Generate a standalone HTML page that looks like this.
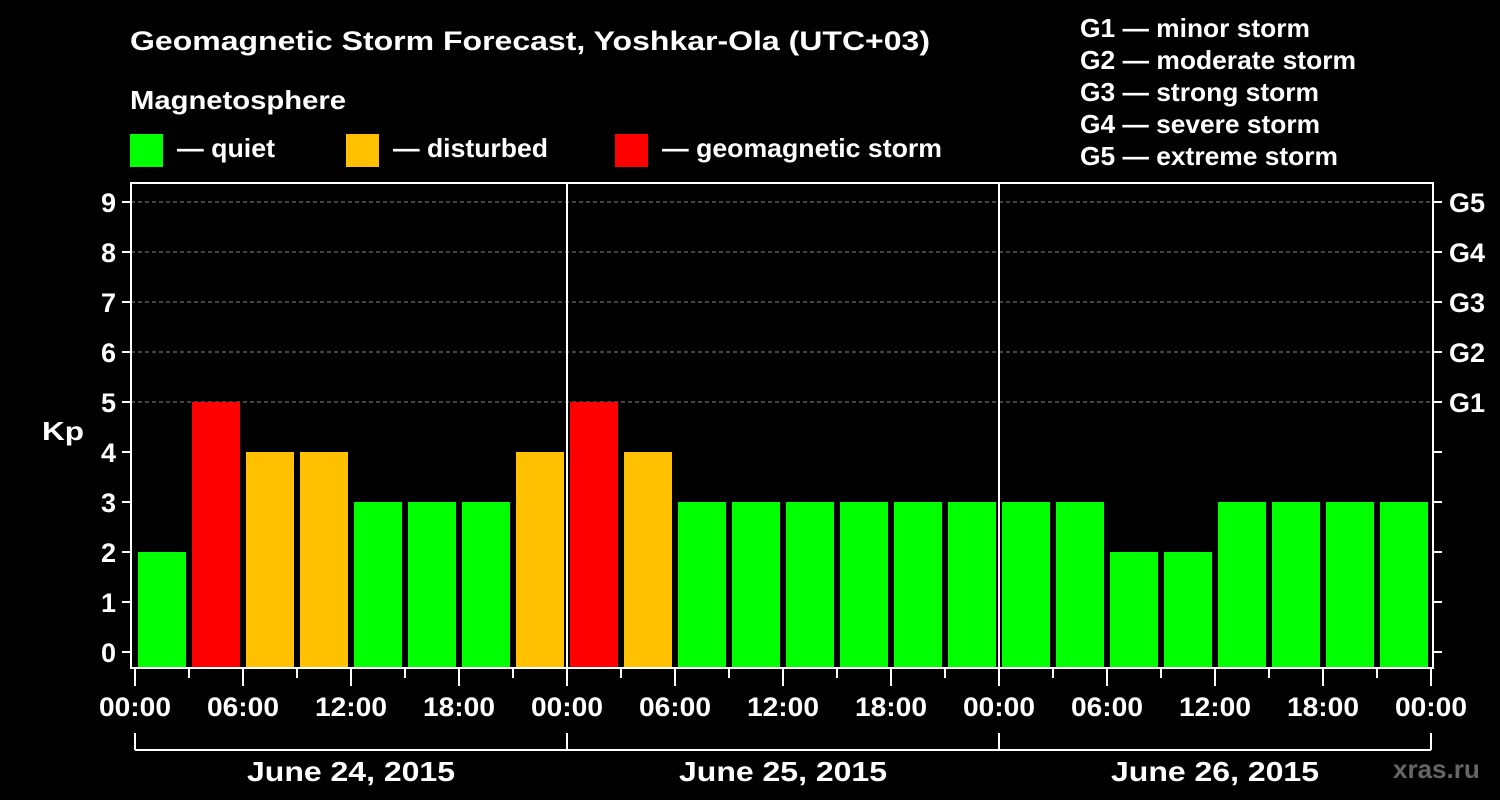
<!DOCTYPE html>
<html><head><meta charset="utf-8"><style>
html,body{margin:0;padding:0;background:#000;}
svg{display:block;font-family:"Liberation Sans",Arial,sans-serif;font-weight:bold;}
</style></head><body>
<svg id="c" width="1500" height="800" viewBox="0 0 1500 800">
<text x="130" y="50" fill="#fff" font-size="27" textLength="800" lengthAdjust="spacingAndGlyphs">Geomagnetic Storm Forecast, Yoshkar-Ola (UTC+03)</text>
<text x="130" y="109" fill="#fff" font-size="26" textLength="216" lengthAdjust="spacingAndGlyphs">Magnetosphere</text>
<g><rect x="130" y="134" width="33" height="33" fill="#00ff00"/><text x="177" y="157" fill="#fff" font-size="26" textLength="98" lengthAdjust="spacingAndGlyphs">— quiet</text></g>
<g><rect x="346" y="134" width="33" height="33" fill="#ffc000"/><text x="393" y="157" fill="#fff" font-size="26" textLength="155" lengthAdjust="spacingAndGlyphs">— disturbed</text></g>
<g><rect x="615" y="134" width="33" height="33" fill="#ff0000"/><text x="662" y="157" fill="#fff" font-size="26" textLength="280" lengthAdjust="spacingAndGlyphs">— geomagnetic storm</text></g>
<g fill="#fff" font-size="26">
<text x="1080" y="37" textLength="230" lengthAdjust="spacingAndGlyphs">G1 — minor storm</text>
<text x="1080" y="69" textLength="276" lengthAdjust="spacingAndGlyphs">G2 — moderate storm</text>
<text x="1080" y="101" textLength="239" lengthAdjust="spacingAndGlyphs">G3 — strong storm</text>
<text x="1080" y="133" textLength="240" lengthAdjust="spacingAndGlyphs">G4 — severe storm</text>
<text x="1080" y="165" textLength="258" lengthAdjust="spacingAndGlyphs">G5 — extreme storm</text>
</g>
<text x="42" y="440" fill="#fff" font-size="26" textLength="42" lengthAdjust="spacingAndGlyphs">Kp</text>
<text x="1393" y="778" fill="#666" font-size="26">xras.ru</text>
<g id="grid"></g><g id="bars"></g><g id="axes"></g>
</svg>
<script>
const kpValues=[2,5,4,4,3,3,3,4, 5,4,3,3,3,3,3,3, 3,3,2,2,3,3,3,3];
const dayLabels=["June 24, 2015","June 25, 2015","June 26, 2015"];
const yTicks=[0,1,2,3,4,5,6,7,8,9];
const gLabels=["G1","G2","G3","G4","G5"];
const hourLabels=["00:00","06:00","12:00","18:00"];
const NS="http://www.w3.org/2000/svg";
function X(h){return 135+h*18;}
function Y(v){return 652-v*50;}
function mk(t,a,p){const e=document.createElementNS(NS,t);for(const k in a)e.setAttribute(k,a[k]);p.appendChild(e);return e;}
const grid=document.getElementById('grid'),bars=document.getElementById('bars'),axes=document.getElementById('axes');
yTicks.forEach(v=>{
 if(v>=5){const l=mk('line',{x1:131,x2:1433,y1:Y(v),y2:Y(v),stroke:'#888','stroke-width':1,'stroke-dasharray':'4,3'},grid);
 
 }
 mk('line',{x1:122,x2:131,y1:Y(v),y2:Y(v),stroke:'#fff','stroke-width':2},axes);
 mk('line',{x1:1433,x2:1442,y1:Y(v),y2:Y(v),stroke:'#fff','stroke-width':2},axes);
 const t=mk('text',{x:116,y:Y(v)+10,fill:'#fff','font-size':27,'text-anchor':'end'},axes);t.textContent=v;
 
 
});
gLabels.forEach((g,i)=>{const t=mk('text',{x:1449,y:Y(5+i)+10,fill:'#fff','font-size':27},axes);t.textContent=g;
 
 });
kpValues.forEach((v,i)=>{
 const col=v>=5?'#ff0000':(v>=4?'#ffc000':'#00ff00');
 const r=mk('rect',{x:X(i*3)+3,y:Y(v),width:48,height:667-Y(v),fill:col},bars);
 
 
});
mk('rect',{x:131,y:183,width:1302,height:485,fill:'none',stroke:'#fff','stroke-width':2},axes);
for(let d=1;d<3;d++)mk('line',{x1:X(d*24),x2:X(d*24),y1:183,y2:668,stroke:'#fff','stroke-width':2},axes);
for(let h=0;h<=72;h+=3){
 const major=h%6===0;
 mk('line',{x1:X(h),x2:X(h),y1:668,y2:major?686:678,stroke:'#fff','stroke-width':2},axes);
 if(major){const t=mk('text',{x:X(h),y:716,fill:'#fff','font-size':27,'text-anchor':'middle',textLength:72,lengthAdjust:'spacingAndGlyphs'},axes);
 t.textContent=hourLabels[(h/6)%4];
 
 }
}
mk('line',{x1:X(0),x2:X(72),y1:750,y2:750,stroke:'#fff','stroke-width':2},axes);
for(let d=0;d<=3;d++)mk('line',{x1:X(d*24),x2:X(d*24),y1:733,y2:750,stroke:'#fff','stroke-width':2},axes);
dayLabels.forEach((s,d)=>{const t=mk('text',{x:X(d*24+12),y:781,fill:'#fff','font-size':28,'text-anchor':'middle',textLength:208,lengthAdjust:'spacingAndGlyphs'},axes);t.textContent=s;
 
 });
</script>
</body></html>
